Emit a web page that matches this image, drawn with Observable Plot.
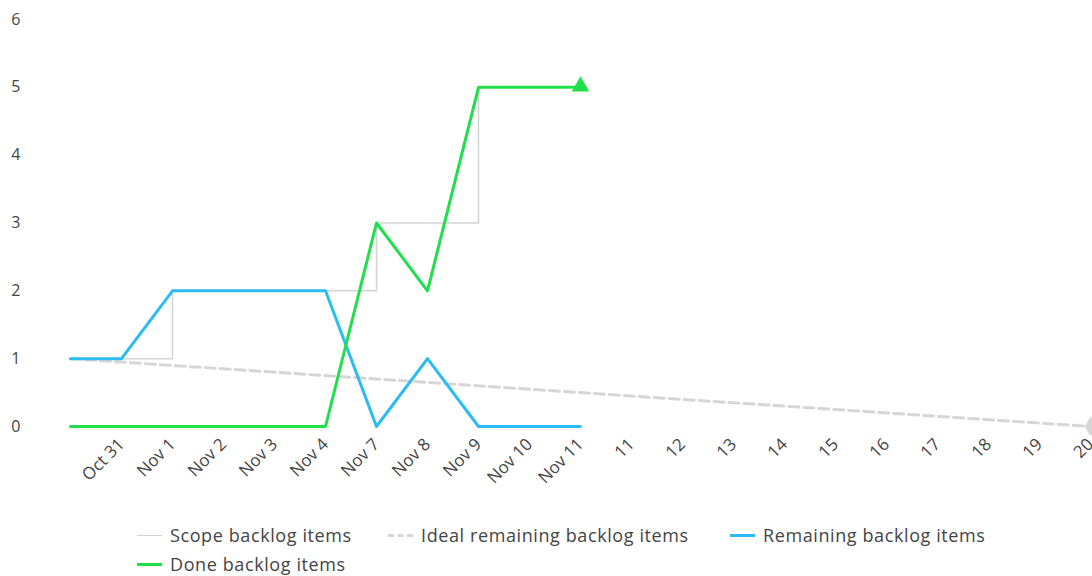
<!DOCTYPE html>
<html>
<head>
<meta charset="utf-8">
<script src="https://cdn.jsdelivr.net/npm/d3@7"></script>
<script src="https://cdn.jsdelivr.net/npm/@observablehq/plot@0.6"></script>
<style>
  html, body { margin: 0; padding: 0; background: #fff; }
  #chart { position: relative; width: 1092px; height: 576px; overflow: hidden; }
  .legend { position: absolute; left: 137px; top: 523px; width: 900px; font-family: "Open Sans", sans-serif; font-size: 18px; line-height: 24px; letter-spacing: 0.6px; color: #444; }
  .legend .item { position: absolute; display: flex; align-items: center; white-space: nowrap; }
  .legend .sw { width: 25px; height: 0; margin-right: 8px; }
</style>
</head>
<body>
<div id="chart"></div>
<script>
// Category labels (first point has no label)
const dayLabels = ["", "Oct 31", "Nov 1", "Nov 2", "Nov 3", "Nov 4", "Nov 7", "Nov 8", "Nov 9", "Nov 10", "Nov 11",
  "11", "12", "13", "14", "15", "16", "17", "18", "19", "20"];
const yTicks = [0, 1, 2, 3, 4, 5, 6];
// Series values by day index
const scopeValues = [1, 1, 2, 2, 2, 2, 3, 3, 5, 5, 5];
const remainingValues = [1, 1, 2, 2, 2, 2, 0, 1, 0, 0, 0];
const doneValues = [0, 0, 0, 0, 0, 0, 3, 2, 5, 5, 5];
const idealDays = [0, 20];
const idealValues = [1, 0];

const seriesNames = ["Scope backlog items", "Ideal remaining backlog items", "Remaining backlog items", "Done backlog items"];
const colors = {scope: "#d3d3d3", ideal: "#d6d6d6", remaining: "#2bbcf4", done: "#1fe04a"};

const toRows = (vals) => vals.map((v, i) => ({i, v}));
const scope = toRows(scopeValues);
const remaining = toRows(remainingValues);
const done = toRows(doneValues);
const ideal = idealDays.map((d, k) => ({i: d, v: idealValues[k]}));

const plot = Plot.plot({
  width: 1092,
  height: 520,
  marginLeft: 68,
  marginRight: 0,
  marginTop: 19,
  marginBottom: 94,
  style: {fontFamily: "Open Sans, sans-serif", fontSize: "16px", color: "#444", overflow: "visible"},
  x: {type: "point", domain: d3.range(dayLabels.length), padding: 0, axis: null},
  y: {domain: [0, 6], axis: null},
  marks: [
    Plot.axisY({ticks: yTicks, tickFormat: d => String(d), tickSize: 0, tickPadding: 48, label: null, fontSize: 16}),
    Plot.axisX({ticks: d3.range(1, dayLabels.length), tickFormat: i => dayLabels[i], tickSize: 0, tickPadding: 15, tickRotate: -45, label: null, fontSize: 17}),
    Plot.line(scope, {x: "i", y: "v", stroke: colors.scope, strokeWidth: 1.5, curve: "step-after"}),
    Plot.line(ideal, {x: "i", y: "v", stroke: colors.ideal, strokeWidth: 3, strokeDasharray: "10,5"}),
    Plot.dot(ideal.slice(-1), {x: "i", y: "v", symbol: "diamond", r: 6, fill: colors.ideal}),
    Plot.line(remaining, {x: "i", y: "v", stroke: colors.remaining, strokeWidth: 3}),
    Plot.line(done, {x: "i", y: "v", stroke: colors.done, strokeWidth: 3}),
    Plot.dot(done.slice(-1), {x: "i", y: "v", symbol: "triangle", r: 6.5, fill: colors.done, dy: -1})
  ]
});
const chart = document.getElementById("chart");
chart.appendChild(plot);
plot.style.position = "absolute";
plot.style.left = "0";
plot.style.top = "0";

// Legend
const legend = document.createElement("div");
legend.className = "legend";
const legendPos = [[0, 0], [251, 0], [593, 0], [0, 29]];
const legendStyles = [
  `border-top: 1.5px solid ${colors.scope}`,
  `border-top: 3px dashed ${colors.ideal}`,
  `border-top: 3px solid ${colors.remaining}`,
  `border-top: 3px solid ${colors.done}`
];
seriesNames.forEach((name, k) => {
  const it = document.createElement("div");
  it.className = "item";
  it.style.left = legendPos[k][0] + "px";
  it.style.top = legendPos[k][1] + "px";
  const sw = document.createElement("span");
  sw.className = "sw";
  sw.style.cssText = legendStyles[k];
  const t = document.createElement("span");
  t.textContent = name;
  it.appendChild(sw);
  it.appendChild(t);
  legend.appendChild(it);
});
chart.appendChild(legend);
</script>
</body>
</html>
